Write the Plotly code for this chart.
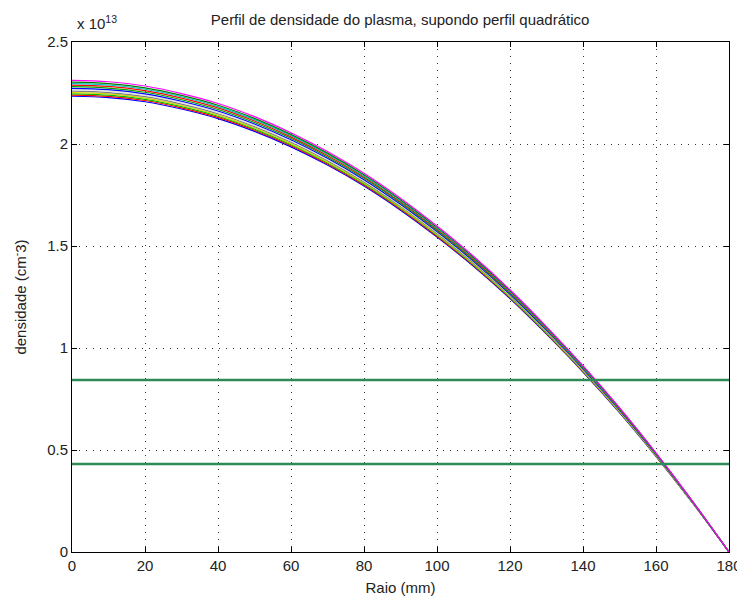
import plotly.graph_objects as go

# Radius samples (mm)
radius_mm = [0, 10, 20, 30, 40, 50, 60, 70, 80, 90, 100, 110, 120, 130, 140, 150, 160, 170, 180]
# Normalized profile shape (fraction of central density)
profile_shape = [1.0, 0.997, 0.988, 0.972, 0.951, 0.923, 0.889, 0.849, 0.803, 0.750,
                 0.691, 0.627, 0.556, 0.478, 0.395, 0.306, 0.210, 0.108, 0.0]
# Central densities of each curve (x 1e13 cm^-3)
central_density = [2.234, 2.240, 2.246, 2.252, 2.259, 2.266, 2.273, 2.281, 2.289, 2.296, 2.303, 2.312]
curve_colors = ["#0000ff", "#ff0000", "#00c000", "#d4d400", "#808080", "#e0e0e0",
                "#0000ff", "#00a000", "#ff0000", "#00bfbf", "#008000", "#ff00ff"]
# Horizontal reference densities (x 1e13 cm^-3)
ref_levels = [0.843, 0.431]
ref_color = "#2e8b57"

x_ticks = [0, 20, 40, 60, 80, 100, 120, 140, 160, 180]
y_ticks = [0, 0.5, 1, 1.5, 2, 2.5]
y_tick_text = ["0", "0.5", "1", "1.5", "2", "2.5"]

fig = go.Figure()
for n0, col in zip(central_density, curve_colors):
    fig.add_trace(go.Scatter(
        x=radius_mm, y=[n0 * s for s in profile_shape], mode="lines",
        line=dict(color=col, width=1.2, shape="spline"), showlegend=False,
        hoverinfo="skip"))
for lvl in ref_levels:
    fig.add_trace(go.Scatter(
        x=[radius_mm[0], radius_mm[-1]], y=[lvl, lvl], mode="lines",
        line=dict(color=ref_color, width=2.5), showlegend=False, hoverinfo="skip"))

font = dict(family="Liberation Sans, Arial, sans-serif", size=15, color="#222222")
axis_common = dict(
    showline=True, linecolor="black", linewidth=1, mirror="ticks",
    ticks="inside", ticklen=5, tickcolor="black",
    showgrid=True, gridcolor="rgba(0,0,0,0.8)", griddash="1px,6px", gridwidth=1,
    zeroline=False, tickfont=font, automargin=False,
)
fig.update_layout(
    width=737, height=598,
    margin=dict(l=64, r=16, t=34, b=54),
    paper_bgcolor="white", plot_bgcolor="white",
    font=font,
    title=dict(text="Perfil de densidade do plasma, supondo perfil quadrático",
               x=0.532, xanchor="center", y=0.980, yanchor="middle",
               font=dict(family="Liberation Sans, Arial, sans-serif", size=15, color="#222222")),
    xaxis=dict(range=[0, 180], tickvals=x_ticks,
               title=dict(text="Raio (mm)", standoff=9, font=font), **axis_common),
    yaxis=dict(range=[0, 2.5], tickvals=y_ticks, ticktext=y_tick_text,
               title=dict(text="densidade (cm<sup>-</sup>3)", standoff=16, font=font),
               **axis_common),
    annotations=[dict(text="x 10<sup>13</sup>", xref="paper", yref="paper",
                      x=0.004, y=1.0, xanchor="left", yanchor="bottom", yshift=8,
                      showarrow=False, font=font)],
)
fig.write_html("out.html")
